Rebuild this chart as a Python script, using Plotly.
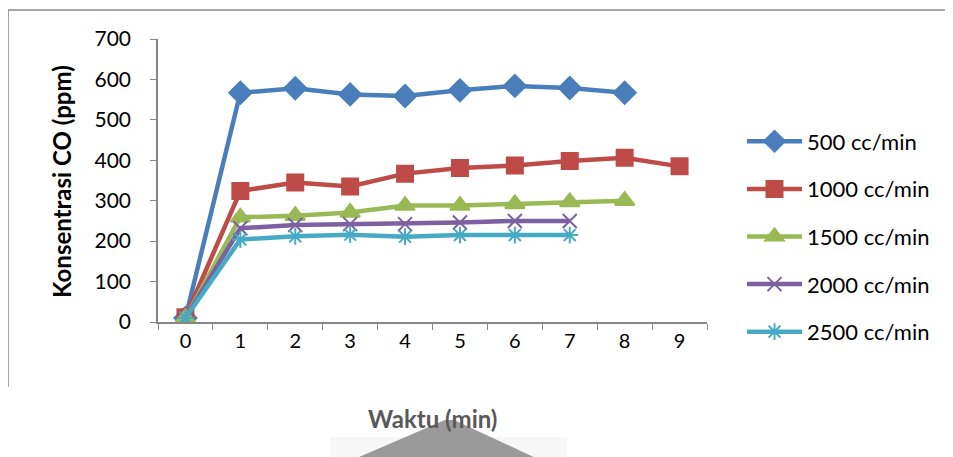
import plotly.graph_objects as go

categories = ["0", "1", "2", "3", "4", "5", "6", "7", "8", "9"]
series_names = ["500 cc/min", "1000 cc/min", "1500 cc/min", "2000 cc/min", "2500 cc/min"]
s500 = [10, 567, 578, 563, 559, 573, 584, 579, 567]
s1000 = [12, 324, 345, 335, 367, 381, 387, 398, 406, 385]
s1500 = [10, 259, 263, 271, 288, 288, 292, 297, 300]
s2000 = [10, 232, 240, 242, 242, 246, 250, 250]
s2500 = [10, 204, 212, 216, 211, 215, 215, 215]
y_ticks = [0, 100, 200, 300, 400, 500, 600, 700]

colors = ["#4A7EBB", "#BE4B48", "#98B954", "#7D60A0", "#46AAC5"]
symbols = ["diamond", "square", "triangle-up", "x-thin-open", "asterisk-open"]
sizes = [17, 16, 17, 14, 14]
all_series = [s500, s1000, s1500, s2000, s2500]

FONT = "Lato, 'Open Sans', sans-serif"

# page body has an 8px margin; figure occupies page x 8..953, y 8..457
OFF = 8
W, H = 953 - OFF, 457 - OFF
PL, PR, PT, PB = 158, 707, 39, 322  # plot area in page pixels

fig = go.Figure()
for i, (name, vals) in enumerate(zip(series_names, all_series)):
    fig.add_trace(go.Scatter(
        x=categories[:len(vals)], y=vals, name=name, mode="lines+markers",
        line=dict(color=colors[i], width=4.5),
        marker=dict(symbol=symbols[i], size=sizes[i], color=colors[i],
                    line=dict(color=colors[i], width=2)),
        legendgroup=str(i),
    ))

px = lambda x: (x - PL) / (PR - PL)
py = lambda y: (PB - y) / (PB - PT)

fig.update_layout(
    width=W, height=H,
    margin=dict(l=PL - OFF, r=W - (PR - OFF), t=PT - OFF, b=H - (PB - OFF), autoexpand=False),
    paper_bgcolor="white", plot_bgcolor="white",
    font=dict(family=FONT, size=20, color="black"),
    showlegend=True,
    legend=dict(x=px(742), xanchor="left", y=py(236.5), yanchor="middle",
                font=dict(family=FONT, size=22, color="black"),
                tracegroupgap=16, itemwidth=55, bgcolor="rgba(0,0,0,0)"),
    xaxis=dict(type="category", categoryorder="array", categoryarray=categories,
               range=[-0.5, 9.5], tickson="boundaries", ticks="outside", ticklen=6,
               tickcolor="#868686", showline=True, linecolor="#868686", linewidth=1.5,
               showgrid=False, zeroline=False, tickfont=dict(size=20)),
    yaxis=dict(range=[0, 700], tickvals=y_ticks, ticks="outside", ticklen=6,
               tickcolor="#868686", showline=True, linecolor="#868686", linewidth=1.5,
               showgrid=False, zeroline=False, tickfont=dict(size=21),
               ticklabelstandoff=15),
    annotations=[
        dict(text="<b>Konsentrasi CO (ppm)</b>", xref="paper", yref="paper",
             x=px(61), y=py(182), textangle=-90, showarrow=False,
             font=dict(family=FONT, size=24, color="black"),
             xanchor="center", yanchor="middle"),
        dict(text="<b>Waktu (min)</b>", xref="paper", yref="paper",
             x=px(432), y=py(418), showarrow=False,
             font=dict(family=FONT, size=24, color="#595959"),
             xanchor="center", yanchor="middle"),
    ],
)
fig.add_shape(type="path", xref="paper", yref="paper", layer="below",
              path=f"M {px(8)},{py(387)} L {px(8)},{py(10)} L {px(960)},{py(10)}",
              line=dict(color="#8A8A8A", width=1.5))
# scanned artifact under the axis title
fig.add_shape(type="path", xref="paper", yref="paper", layer="below",
              path=f"M {px(330)},{py(437)} L {px(567)},{py(437)} L {px(567)},{py(460)} L {px(330)},{py(460)} Z",
              fillcolor="#F7F7F7", line=dict(width=0))
fig.add_shape(type="path", xref="paper", yref="paper", layer="below",
              path=f"M {px(445)},{py(420)} L {px(454)},{py(420)} L {px(540)},{py(460)} L {px(352)},{py(460)} Z",
              fillcolor="#9A9A9A", line=dict(width=0))

fig.write_html("out.html")
